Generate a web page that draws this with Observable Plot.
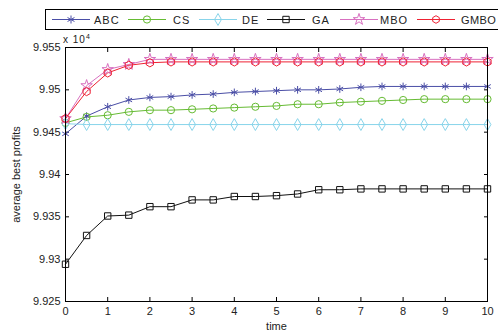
<!DOCTYPE html>
<html><head><meta charset="utf-8">
<script src="https://cdn.jsdelivr.net/npm/d3@7"></script>
<script src="https://cdn.jsdelivr.net/npm/@observablehq/plot@0.6"></script>
<style>
body{margin:0;background:#fff;}
#wrap{position:relative;width:498px;height:330px;overflow:hidden;font-family:"Liberation Sans",Arial,sans-serif;}
#legend{position:absolute;left:0;top:0;}
#exp{position:absolute;left:63px;top:33px;font-size:10px;color:#222;letter-spacing:1px;}
#exp sup{font-size:7px;}
</style>
</head><body>
<div id="wrap"></div>
<script>
const times = [0,0.5,1,1.5,2,2.5,3,3.5,4,4.5,5,5.5,6,6.5,7,7.5,8,8.5,9,9.5,10];
const names = ["ABC","CS","DE","GA","MBO","GMBO"];
const colors = ["#4a4ea6","#66bb33","#88d4ea","#111111","#d870c0","#ee2233"];
const symbols = ["asterisk","circle","diamond","square","star","hexagon"];
const ABC  = [9.9448,9.9469,9.9480,9.9488,9.9491,9.9492,9.9494,9.9495,9.9497,9.9498,9.9499,9.9500,9.9500,9.9501,9.9503,9.9504,9.9504,9.9504,9.9504,9.9504,9.9504];
const CS   = [9.9461,9.9468,9.9470,9.9474,9.9476,9.9476,9.9477,9.9478,9.9479,9.9480,9.9481,9.9483,9.9483,9.9485,9.9486,9.9487,9.9488,9.9489,9.9489,9.9489,9.9489];
const DE   = [9.9460,9.9459,9.9459,9.9459,9.9459,9.9459,9.9459,9.9459,9.9459,9.9459,9.9459,9.9459,9.9459,9.9459,9.9459,9.9459,9.9459,9.9459,9.9459,9.9459,9.9459];
const GA   = [9.9294,9.9328,9.9351,9.9352,9.9362,9.9362,9.9370,9.9370,9.9374,9.9374,9.9375,9.9377,9.9382,9.9382,9.9383,9.9383,9.9383,9.9383,9.9383,9.9383,9.9383];
const MBO  = [9.9466,9.9505,9.9524,9.9530,9.9536,9.9536,9.9536,9.9536,9.9536,9.9536,9.9536,9.9536,9.9536,9.9536,9.9536,9.9536,9.9536,9.9536,9.9536,9.9536,9.9536];
const GMBO = [9.9466,9.9498,9.9520,9.9529,9.9532,9.9533,9.9533,9.9533,9.9533,9.9533,9.9533,9.9533,9.9533,9.9533,9.9533,9.9533,9.9533,9.9533,9.9533,9.9533,9.9533];
const xTicks = [0,1,2,3,4,5,6,7,8,9,10];
const yTicks = [9.925,9.93,9.935,9.94,9.945,9.95,9.955];
const yTickLabels = ["9.925","9.93","9.935","9.94","9.945","9.95","9.955"];

const series = [ABC,CS,DE,GA,MBO,GMBO];
const data = [];
names.forEach((n,i)=>series[i].forEach((v,j)=>data.push({s:n,t:times[j],v})));

const plot = Plot.plot({
  width:498, height:330,
  marginLeft:65, marginRight:11, marginTop:47, marginBottom:29,
  style:{fontFamily:"'Liberation Sans',Arial,sans-serif", fontSize:"11px", color:"#222", background:"#fff", overflow:"visible"},
  x:{domain:[0,10]},
  y:{domain:[9.925,9.955]},
  color:{domain:names, range:colors},
  symbol:{domain:names, range:symbols},
  marks:[
    Plot.axisX({ticks:xTicks, tickSize:-4, tickPadding:10, label:"time", labelAnchor:"center", labelArrow:"none", labelOffset:28, stroke:"#000"}),
    Plot.axisX({anchor:"top", ticks:xTicks, tickSize:-4, tickFormat:()=>"", label:null, stroke:"#000"}),
    Plot.axisY({ticks:yTicks, tickSize:-4, tickPadding:9, tickFormat:(d,i)=>yTickLabels[i], label:"average best profits", labelAnchor:"center", labelArrow:"none", labelOffset:53, stroke:"#000"}),
    Plot.axisY({anchor:"right", ticks:yTicks, tickSize:-4, tickFormat:()=>"", label:null, stroke:"#000"}),
    Plot.line(data,{x:"t", y:"v", z:"s", stroke:"s", strokeWidth:1}),
    Plot.dot(data,{x:"t", y:"v", stroke:"s", symbol:"s", r:3.6, strokeWidth:1, fill:"none"}),
    Plot.frame({stroke:"#000"})
  ]
});
const wrap = document.getElementById("wrap");
wrap.appendChild(plot);

const ex = document.createElement("div");
ex.id="exp"; ex.innerHTML = "x 10<sup>4</sup>";
wrap.appendChild(ex);

// legend
const lg = d3.select(wrap).append("svg").attr("id","legend").attr("width",498).attr("height",34);
lg.append("rect").attr("x",45.5).attr("y",9.5).attr("width",470).attr("height",20).attr("fill","#fff").attr("stroke","#000");
const lineStart = [52,128,199,267,340,417];
const textStart = [94,173,242,312,380,461];
const symMap = {circle:d3.symbolCircle, diamond:d3.symbolDiamond, square:d3.symbolSquare, star:d3.symbolStar, hexagon:null};
names.forEach((n,i)=>{
  const g = lg.append("g");
  const x0 = lineStart[i], x1 = x0+38, cx=(x0+x1)/2, cy=19.5;
  g.append("line").attr("x1",x0).attr("x2",x1).attr("y1",cy).attr("y2",cy).attr("stroke",colors[i]);
  let p;
  const s = symbols[i];
  if (s==="asterisk"){
    const r=4; p = "";
    for (let k=0;k<3;k++){const a=Math.PI/2+k*Math.PI/3; p+=`M${cx+r*Math.cos(a)},${cy+r*Math.sin(a)}L${cx-r*Math.cos(a)},${cy-r*Math.sin(a)}`;}
  } else if (s==="hexagon"){
    const r=3.8; p = d3.range(6).map(k=>{const a=k*Math.PI/3+Math.PI/6;return [cx+r*Math.cos(a),cy+r*Math.sin(a)];}).map((q,k)=>(k?"L":"M")+q).join("")+"Z";
  } else {
    p = d3.symbol(symMap[s], Math.PI*13)();
    g.append("path").attr("d",p).attr("transform",`translate(${cx},${cy})`).attr("fill","none").attr("stroke",colors[i]);
    p=null;
  }
  if (p) g.append("path").attr("d",p).attr("fill","none").attr("stroke",colors[i]);
  g.append("text").attr("x",textStart[i]).attr("y",23.5).attr("font-size",11).attr("letter-spacing",i===5?0.4:1).attr("fill","#222").attr("font-family","'Liberation Sans',Arial,sans-serif").text(n);
});
</script>
</body></html>
